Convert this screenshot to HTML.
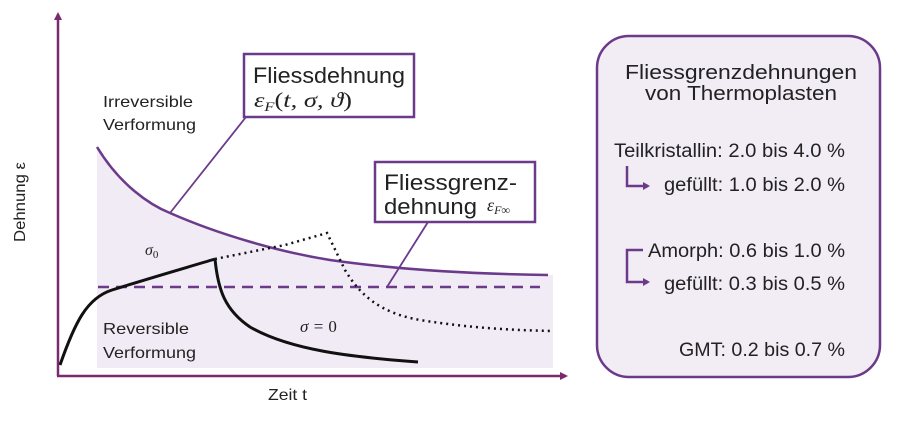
<!DOCTYPE html>
<html><head><meta charset="utf-8"><style>
body{margin:0;background:#fff}
svg{display:block}
text{font-family:"Liberation Sans",sans-serif;fill:#222}
.m{font-family:"Liberation Serif",serif;font-style:italic}
</style></head><body>
<svg width="922" height="433" viewBox="0 0 922 433">
<defs>
<marker id="a" markerWidth="8" markerHeight="8" refX="6" refY="4" orient="auto" markerUnits="userSpaceOnUse"><path d="M0,0 L8,4 L0,8 Z" fill="#7a2a6e"/></marker>
<marker id="b" markerWidth="8" markerHeight="8" refX="5" refY="4" orient="auto" markerUnits="userSpaceOnUse"><path d="M0,0 L7,4 L0,8 Z" fill="#6b3a8a"/></marker>
</defs>
<path d="M97,147 C120,185 150,205 170,213 C220,235 280,252 330,260 C400,270 470,274 553,275 L553,368 L97,368 Z" fill="#f1ebf5"/>
<line x1="58" y1="376" x2="58" y2="14" stroke="#7a2a6e" stroke-width="2.5" marker-end="url(#a)"/>
<line x1="57" y1="376" x2="566" y2="376" stroke="#7a2a6e" stroke-width="2.5" marker-end="url(#a)"/>
<text x="0" y="0" font-size="16" transform="translate(25,242) rotate(-90)" textLength="80" lengthAdjust="spacingAndGlyphs">Dehnung ε</text>
<text x="268" y="400" font-size="16" textLength="39" lengthAdjust="spacingAndGlyphs">Zeit t</text>
<path d="M97,147 C120,185 150,205 170,213 C220,235 280,252 330,260 C400,270 470,274 548,275" fill="none" stroke="#6b3a8a" stroke-width="2.5"/>
<line x1="98" y1="287" x2="540" y2="287" stroke="#6b3a8a" stroke-width="2.5" stroke-dasharray="11,7"/>
<path d="M60,365 C75,322 87,298 112,290 C150,278 185,268 215,259" fill="none" stroke="#111" stroke-width="3"/>
<path d="M215,259 C218,290 225,310 250,327 C290,350 350,357 418,362" fill="none" stroke="#111" stroke-width="3"/>
<path d="M215,259 L285,245 L327,233 L345,270 C360,295 380,313 420,320 C470,328 510,330 552,331" fill="none" stroke="#111" stroke-width="2.5" stroke-dasharray="2,4"/>
<text x="103" y="107" font-size="16" textLength="90" lengthAdjust="spacingAndGlyphs">Irreversible</text>
<text x="103" y="130" font-size="16" textLength="93" lengthAdjust="spacingAndGlyphs">Verformung</text>
<text x="103" y="334" font-size="16" textLength="86" lengthAdjust="spacingAndGlyphs">Reversible</text>
<text x="103" y="358" font-size="16" textLength="93" lengthAdjust="spacingAndGlyphs">Verformung</text>
<text x="145" y="255" font-size="16" class="m">σ<tspan font-size="11" dy="3" font-style="normal">0</tspan></text>
<text x="300" y="332" font-size="17" class="m">σ = <tspan font-style="normal">0</tspan></text>
<line x1="246" y1="117" x2="170" y2="213" stroke="#6b3a8a" stroke-width="1.8"/>
<line x1="428" y1="222" x2="387" y2="287" stroke="#6b3a8a" stroke-width="1.8"/>
<rect x="244" y="54" width="170" height="63" fill="#fff" stroke="#6b3a8a" stroke-width="2.5"/>
<text x="253" y="83" font-size="22" textLength="152" lengthAdjust="spacingAndGlyphs">Fliessdehnung</text>
<text x="254" y="107" font-size="21" class="m" textLength="98" lengthAdjust="spacingAndGlyphs">ε<tspan font-size="13" dy="4">F</tspan><tspan dy="-4" font-style="normal">(</tspan>t, σ, ϑ<tspan font-style="normal">)</tspan></text>
<rect x="375" y="162" width="160" height="60" fill="#fff" stroke="#6b3a8a" stroke-width="2.5"/>
<text x="384" y="190" font-size="22" textLength="133" lengthAdjust="spacingAndGlyphs">Fliessgrenz-</text>
<text x="384" y="214" font-size="22" textLength="93" lengthAdjust="spacingAndGlyphs">dehnung</text>
<text x="487" y="211" font-size="18" class="m">ε<tspan font-size="12" dy="3">F∞</tspan></text>
<rect x="597" y="36" width="283" height="341" rx="32" fill="#f2ecf5" stroke="#6b3a8a" stroke-width="2.5"/>
<g font-size="20" text-anchor="middle">
<text x="741" y="79" textLength="232" lengthAdjust="spacingAndGlyphs">Fliessgrenzdehnungen</text>
<text x="741" y="100" textLength="192" lengthAdjust="spacingAndGlyphs">von Thermoplasten</text>
</g>
<g font-size="19">
<text x="614" y="157" textLength="231" lengthAdjust="spacingAndGlyphs">Teilkristallin: 2.0 bis 4.0 %</text>
<text x="664" y="191" textLength="181" lengthAdjust="spacingAndGlyphs">gefüllt: 1.0 bis 2.0 %</text>
<text x="648" y="257" textLength="197" lengthAdjust="spacingAndGlyphs">Amorph: 0.6 bis 1.0 %</text>
<text x="664" y="290" textLength="181" lengthAdjust="spacingAndGlyphs">gefüllt: 0.3 bis 0.5 %</text>
<text x="679" y="356" textLength="166" lengthAdjust="spacingAndGlyphs">GMT: 0.2 bis 0.7 %</text>
</g>
<polyline points="627,166 627,186 648,186" fill="none" stroke="#6b3a8a" stroke-width="2.5" marker-end="url(#b)"/>
<polyline points="643,250 627,250 627,282 648,282" fill="none" stroke="#6b3a8a" stroke-width="2.5" marker-end="url(#b)"/>
</svg>
</body></html>
